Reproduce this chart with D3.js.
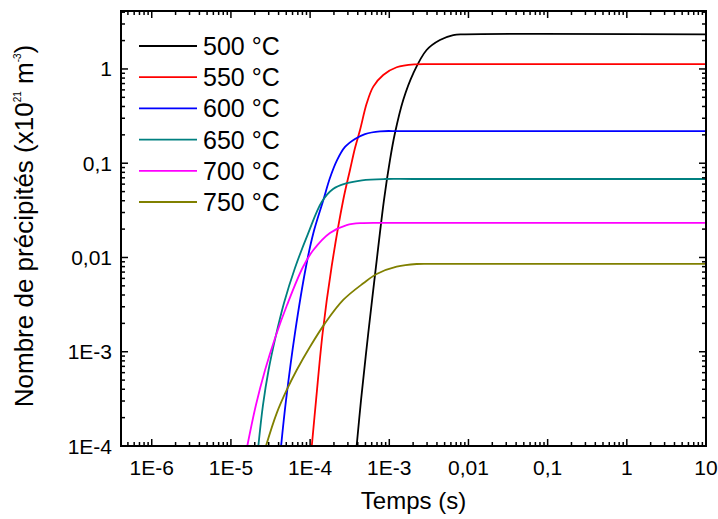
<!DOCTYPE html>
<html><head><meta charset="utf-8">
<script src="https://cdn.jsdelivr.net/npm/d3@7"></script>
<style>body{margin:0;background:#fff}text{font-family:"Liberation Sans",Arial,sans-serif;fill:#000}</style>
</head><body><svg id="c" width="718" height="519"></svg>
<script>
// ---- data (time in s, number of precipitates) ----
const seriesNames = ["500 °C","550 °C","600 °C","650 °C","700 °C","750 °C"];
const seriesColors = ["#000000","#ff0000","#0000ff","#008080","#ff00ff","#808000"];
const s500 = [[3.87e-4,1e-4],[4.40e-4,3.08e-4],[5.43e-4,1.58e-3],[6.79e-4,7.98e-3],[8.57e-4,0.0407],[1.02e-3,0.108],[1.18e-3,0.209],[1.50e-3,0.469],[2.01e-3,0.90],[2.96e-3,1.59],[4.36e-3,2.03],[6.43e-3,2.29],[9.04e-3,2.33],[10,2.33]];
const s550 = [[1.05e-4,1e-4],[1.19e-4,3.08e-4],[1.44e-4,1.58e-3],[1.87e-4,7.98e-3],[2.62e-4,0.0407],[3.19e-4,0.0848],[3.69e-4,0.145],[4.27e-4,0.225],[5.19e-4,0.432],[6.28e-4,0.649],[8.39e-4,0.864],[1.24e-3,1.042],[2.11e-3,1.12],[4.0e-3,1.125],[10,1.125]];
const s600 = [[4.30e-5,1e-4],[4.97e-5,3.08e-4],[6.44e-5,1.58e-3],[8.87e-5,7.98e-3],[1.10e-4,0.0182],[1.47e-4,0.0407],[1.78e-4,0.0697],[2.19e-4,0.108],[2.76e-4,0.149],[3.69e-4,0.181],[4.93e-4,0.204],[7.64e-4,0.218],[1.5e-3,0.219],[10,0.219]];
const s650 = [[2.22e-5,1e-4],[2.54e-5,2.72e-4],[2.99e-5,6.40e-4],[3.66e-5,1.43e-3],[4.68e-5,3.29e-3],[6.44e-5,7.74e-3],[9.40e-5,0.0178],[1.40e-4,0.0388],[1.95e-4,0.0533],[2.84e-4,0.061],[4.52e-4,0.0659],[8.83e-4,0.068],[2.0e-3,0.068],[10,0.068]];
const s700 = [[1.61e-5,1e-4],[2.07e-5,2.72e-4],[2.70e-5,6.40e-4],[3.61e-5,1.40e-3],[5.11e-5,3.13e-3],[8.13e-5,7.93e-3],[1.10e-4,0.012],[1.78e-4,0.0182],[2.90e-4,0.0221],[4.66e-4,0.0232],[1.0e-3,0.0233],[10,0.0233]];
const s750 = [[2.77e-5,1e-4],[3.78e-5,2.22e-4],[5.07e-5,3.93e-4],[6.78e-5,6.40e-4],[9.98e-5,1.13e-3],[1.54e-4,2.00e-3],[2.62e-4,3.54e-3],[4.70e-4,5.32e-3],[6.93e-4,6.68e-3],[1.24e-3,7.98e-3],[2.22e-3,8.53e-3],[4.0e-3,8.55e-3],[10,8.55e-3]];
const seriesData = [s500,s550,s600,s650,s700,s750];
const xTickValues = [1e-6,1e-5,1e-4,1e-3,1e-2,1e-1,1,10];
const xTickLabels = ["1E-6","1E-5","1E-4","1E-3","0,01","0,1","1","10"];
const yTickValues = [1e-4,1e-3,1e-2,1e-1,1];
const yTickLabels = ["1E-4","1E-3","0,01","0,1","1"];
const xDomain = [4.09e-7,10];
const yDomain = [1e-4,4.12];

// ---- layout ----
const L=121, T=11, W=585, H=435;
const svg = d3.select("#c");
const x = d3.scaleLog().domain(xDomain).range([L,L+W]);
const y = d3.scaleLog().domain(yDomain).range([T+H,T]);

function minors(dom){
  const out=[];
  for(let e=Math.floor(Math.log10(dom[0]));e<=Math.ceil(Math.log10(dom[1]));e++){
    for(let k=2;k<=9;k++){const v=k*Math.pow(10,e); if(v>=dom[0]&&v<=dom[1]) out.push(v);}
  }
  return out;
}
const xMin = minors(xDomain), yMin = minors(yDomain);

svg.append("defs").append("clipPath").attr("id","clip").append("rect")
  .attr("x",L).attr("y",T).attr("width",W).attr("height",H);

// curves
const line = d3.line().x(d=>x(d[0])).y(d=>y(d[1])).curve(d3.curveCatmullRom.alpha(0.5));
const g = svg.append("g").attr("clip-path","url(#clip)");
seriesData.forEach((s,i)=>{
  g.append("path").datum(s).attr("d",line).attr("fill","none")
   .attr("stroke",seriesColors[i]).attr("stroke-width",1.8);
});

// axes with inward ticks
const major=7, minor=4;
function addX(pos, dir){
  const gx = svg.append("g");
  gx.selectAll("line.M").data(xTickValues.filter(v=>v>=xDomain[0]&&v<=xDomain[1])).enter().append("line")
    .attr("x1",d=>x(d)).attr("x2",d=>x(d)).attr("y1",pos).attr("y2",pos+dir*major)
    .attr("stroke","#000").attr("stroke-width",1.5);
  gx.selectAll("line.m").data(xMin).enter().append("line")
    .attr("x1",d=>x(d)).attr("x2",d=>x(d)).attr("y1",pos).attr("y2",pos+dir*minor)
    .attr("stroke","#000").attr("stroke-width",1.5);
}
function addY(pos, dir){
  const gy = svg.append("g");
  gy.selectAll("line.M").data(yTickValues).enter().append("line")
    .attr("y1",d=>y(d)).attr("y2",d=>y(d)).attr("x1",pos).attr("x2",pos+dir*major)
    .attr("stroke","#000").attr("stroke-width",1.5);
  gy.selectAll("line.m").data(yMin).enter().append("line")
    .attr("y1",d=>y(d)).attr("y2",d=>y(d)).attr("x1",pos).attr("x2",pos+dir*minor)
    .attr("stroke","#000").attr("stroke-width",1.5);
}
addX(T+H,-1); addX(T,1); addY(L,1); addY(L+W,-1);

svg.append("rect").attr("x",L).attr("y",T).attr("width",W).attr("height",H)
  .attr("fill","none").attr("stroke","#000").attr("stroke-width",2);

// tick labels
svg.append("g").selectAll("text").data(xTickValues).enter().append("text")
  .attr("x",d=>x(d)).attr("y",T+H+29).attr("text-anchor","middle")
  .attr("font-size",21).text((d,i)=>xTickLabels[i]);
svg.append("g").selectAll("text").data(yTickValues).enter().append("text")
  .attr("x",L-9).attr("y",d=>y(d)+7.5).attr("text-anchor","end")
  .attr("font-size",21).text((d,i)=>yTickLabels[i]);

// axis titles
svg.append("text").attr("x",L+W/2).attr("y",509).attr("text-anchor","middle")
  .attr("font-size",24).text("Temps (s)");
const yt = svg.append("text").attr("transform","translate(33,226) rotate(-90)")
  .attr("text-anchor","middle").attr("font-size",26);
yt.append("tspan").text("Nombre de précipités (x10");
yt.append("tspan").attr("font-size",10).attr("dy",-12).text("21");
yt.append("tspan").attr("dy",12).text(" m");
yt.append("tspan").attr("font-size",10).attr("dy",-12).text("-3");
yt.append("tspan").attr("dy",12).text(")");

// legend
const lg = svg.append("g");
seriesNames.forEach((n,i)=>{
  const yy = 46 + i*31.2;
  lg.append("line").attr("x1",139).attr("x2",197).attr("y1",yy).attr("y2",yy)
    .attr("stroke",seriesColors[i]).attr("stroke-width",1.8);
  lg.append("text").attr("x",203).attr("y",yy+9).attr("font-size",25).text(n);
});
</script></body></html>
